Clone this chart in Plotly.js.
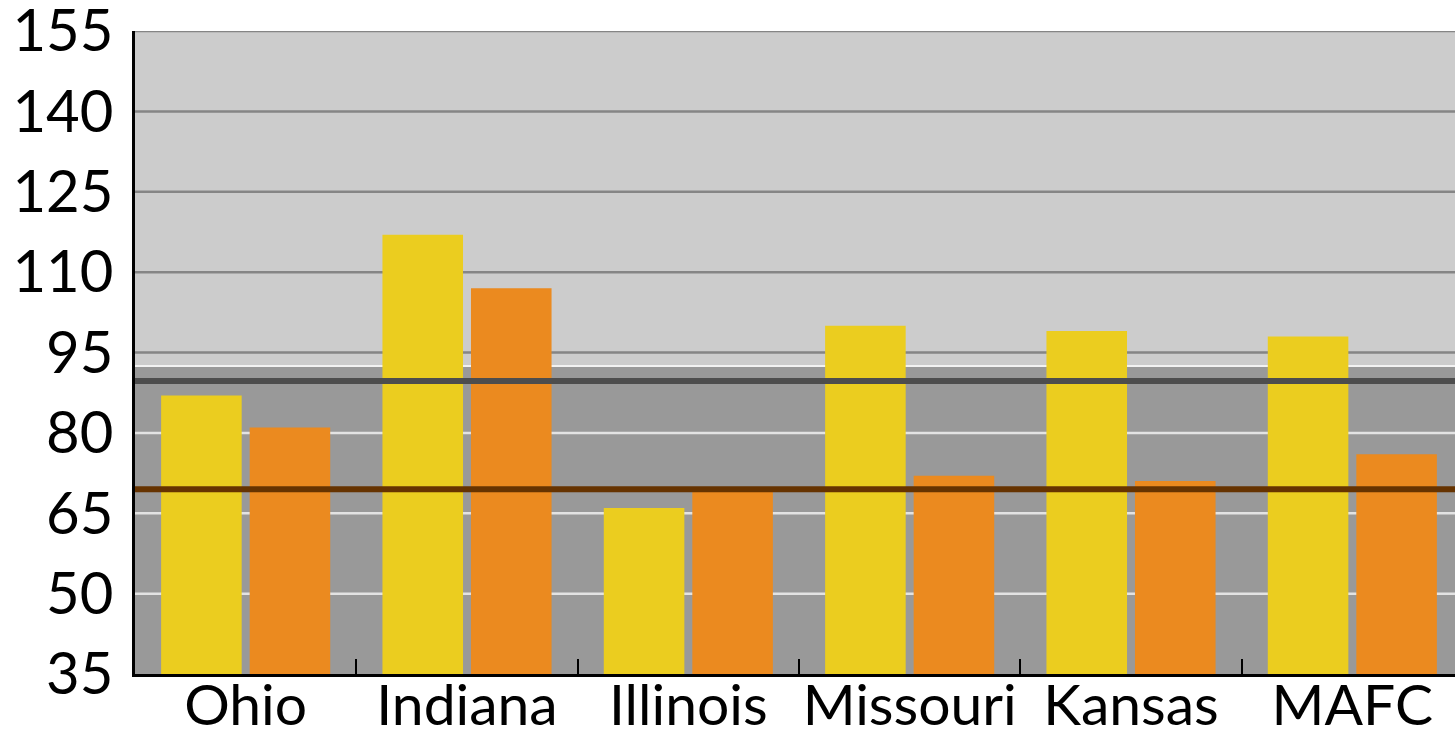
<!DOCTYPE html>
<html>
<head>
<meta charset="utf-8">
<script src="https://cdn.plot.ly/plotly-3.0.1.min.js"></script>
<style>
html,body{margin:0;padding:0;background:#fff;overflow:hidden;}
#chart{width:1463px;height:738px;}
</style>
</head>
<body>
<div id="chart"></div>
<script>
const categories = ["Ohio", "Indiana", "Illinois", "Missouri", "Kansas", "MAFC"];
const seriesYellow = [87, 117, 66, 100, 99, 98];
const seriesOrange = [81, 107, 69, 72, 71, 76];
const yTicks = [35, 50, 65, 80, 95, 110, 125, 140, 155];
const yRange = [35, 155];
const bandBoundary = 92.5;
const darkLineValue = 89.7;
const brownLineValue = 69.5;

const FONT = "Lato, 'Noto Sans', sans-serif";

const shapes = [];
shapes.push({type:'rect', xref:'paper', yref:'y', x0:0, x1:1, y0:bandBoundary, y1:yRange[1],
  fillcolor:'#cccccc', line:{width:0}, layer:'below'});
shapes.push({type:'rect', xref:'paper', yref:'y', x0:0, x1:1, y0:yRange[0], y1:bandBoundary,
  fillcolor:'#999999', line:{width:0}, layer:'below'});
shapes.push({type:'line', xref:'paper', yref:'y', x0:0, x1:1, y0:bandBoundary, y1:bandBoundary,
  line:{color:'#f2f2f2', width:2}, layer:'below'});
yTicks.forEach(v => {
  if (v === yRange[0]) return;
  const light = v < bandBoundary;
  shapes.push({type:'line', xref:'paper', yref:'y', x0:0, x1:1, y0:v, y1:v,
    line:{color: light ? '#e3e3e3' : '#858585', width:2.5}, layer:'between'});
});
shapes.push({type:'line', xref:'paper', yref:'y', x0:0, x1:1, y0:darkLineValue, y1:darkLineValue,
  line:{color:'#4d4d4d', width:6}, layer:'above'});
shapes.push({type:'line', xref:'paper', yref:'y', x0:0, x1:1, y0:brownLineValue, y1:brownLineValue,
  line:{color:'#663300', width:6}, layer:'above'});

const traces = [
  {type:'bar', x:categories, y:seriesYellow, marker:{color:'#ebcd1f', line:{width:0}}, hoverinfo:'y', name:'A'},
  {type:'bar', x:categories, y:seriesOrange, marker:{color:'#eb8a1f', line:{width:0}}, hoverinfo:'y', name:'B'}
];

const layout = {
  width:1463, height:738,
  margin:{l:135, r:0, t:31, b:64, pad:0},
  paper_bgcolor:'#ffffff',
  plot_bgcolor:'#999999',
  showlegend:false,
  barmode:'group',
  bargap:0.2,
  bargroupgap:0.09,
  shapes: shapes,
  xaxis:{
    type:'category',
    showgrid:false,
    zeroline:false,
    showline:true, linecolor:'#000000', linewidth:3,
    ticks:'inside', tickson:'boundaries', ticklen:15, tickwidth:2, tickcolor:'#000000',
    tickangle:0,
    tickfont:{family:FONT, size:57, color:'#000000'},
    ticklabelstandoff:-20
  },
  yaxis:{
    range:[yRange[0], yRange[1] + 0.01],
    tickvals:yTicks,
    ticktext:yTicks.map(String),
    showgrid:false,
    zeroline:false,
    showline:true, linecolor:'#000000', linewidth:3,
    ticks:'',
    tickfont:{family:FONT, size:58, color:'#000000'},
    ticklabelstandoff:7,
    ticklabeloverflow:'allow'
  }
};

Plotly.newPlot('chart', traces, layout, {displayModeBar:false, staticPlot:true});
</script>
</body>
</html>
